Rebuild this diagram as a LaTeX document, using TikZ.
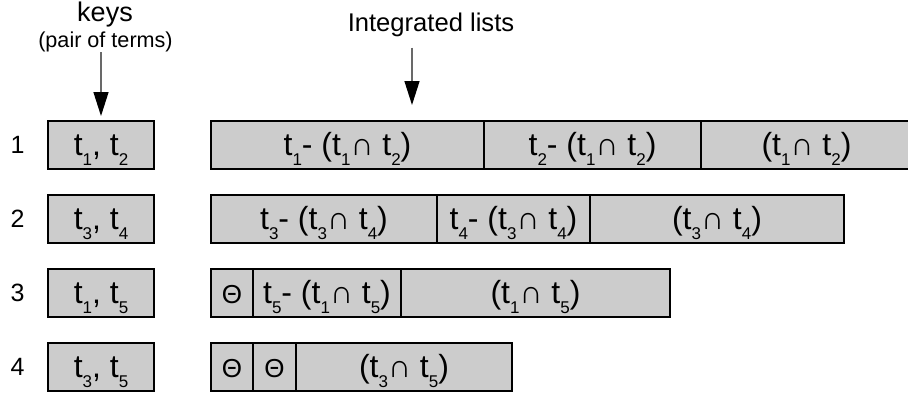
\documentclass[tikz,border=0pt]{standalone}
\usepackage{fontspec}
\setmainfont{Liberation Sans}
\usetikzlibrary{arrows.meta}
\definecolor{cellcol}{RGB}{204,204,204}
\definecolor{shaftcol}{RGB}{105,105,105}
\newcommand{\tsb}[1]{t\raisebox{-5pt}[0pt][0pt]{\fontsize{8.5}{8.5}\selectfont #1}}
\newcommand{\emptymark}{{\fontsize{13}{15}\selectfont Θ}}
\tikzset{every picture/.style={x=0.5pt,y=-0.5pt}}
\tikzset{cell/.style={draw,fill=cellcol,line width=1pt,minimum height=24pt,inner sep=0pt,text height=11.5pt,text depth=1pt,font=\fontsize{16}{18}\selectfont}}
\tikzset{rowlab/.style={anchor=base,font=\fontsize{12.5}{14}\selectfont}}
\tikzset{header/.style={anchor=base,inner sep=0pt}}
\tikzset{pointer/.style={shaftcol,line width=0.7pt,-{Triangle[width=7.5pt,length=12pt,color=black]}}}
\begin{document}
\begin{tikzpicture}
\useasboundingbox (0,0) rectangle (908,396);

\node [header,font=\fontsize{13.5}{15}\selectfont] (keys) at (105,21) {keys};
\node [header,font=\fontsize{10.8}{12}\selectfont] (pairs) at (105.5,47.5) {(pair of terms)};
\node [header,font=\fontsize{12.8}{14}\selectfont] (lists) at (431,32) {Integrated lists};
\coordinate (lstip) at (412,105);

\node [rowlab] (n1) at (17.5,153) {1};
\node [rowlab] (n2) at (17.5,227) {2};
\node [rowlab] (n3) at (17.5,301) {3};
\node [rowlab] (n4) at (17.5,375) {4};

\node [cell,minimum width=53pt] (k1) at (101,145) {\tsb{1}, \tsb{2}};
\node [cell,minimum width=53pt] (k2) at (101,219) {\tsb{3}, \tsb{4}};
\node [cell,minimum width=53pt] (k3) at (101,293) {\tsb{1}, \tsb{5}};
\node [cell,minimum width=53pt] (k4) at (101,367) {\tsb{3}, \tsb{5}};

\node [cell,minimum width=136.5pt] (l1a) at (347.5,145) {\tsb{1}- (\tsb{1}∩ \tsb{2})};
\node [cell,minimum width=108.5pt] (l1b) at (592.5,145) {\tsb{2}- (\tsb{1}∩ \tsb{2})};
\node [cell,minimum width=105.5pt] (l1c) at (806.5,145) {(\tsb{1}∩ \tsb{2})};

\node [cell,minimum width=113pt] (l2a) at (324,219) {\tsb{3}- (\tsb{3}∩ \tsb{4})};
\node [cell,minimum width=76.5pt] (l2b) at (513.5,219) {\tsb{4}- (\tsb{3}∩ \tsb{4})};
\node [cell,minimum width=127pt] (l2c) at (717,219) {(\tsb{3}∩ \tsb{4})};

\node [cell,minimum width=21pt] (l3a) at (232,293) {\emptymark};
\node [cell,minimum width=74pt] (l3b) at (327,293) {\tsb{5}- (\tsb{1}∩ \tsb{5})};
\node [cell,minimum width=134.5pt] (l3c) at (535.5,293) {(\tsb{1}∩ \tsb{5})};

\node [cell,minimum width=21pt] (l4a) at (232,367) {\emptymark};
\node [cell,minimum width=21.5pt] (l4b) at (274.5,367) {\emptymark};
\node [cell,minimum width=108pt] (l4c) at (404,367) {(\tsb{3}∩ \tsb{5})};

\draw [pointer,shorten >=2pt] (pairs.south -| k1.north) -- (k1.north);
\draw [pointer,shorten <=5pt] (lists.south -| lstip) -- (lstip);
\end{tikzpicture}
\end{document}
